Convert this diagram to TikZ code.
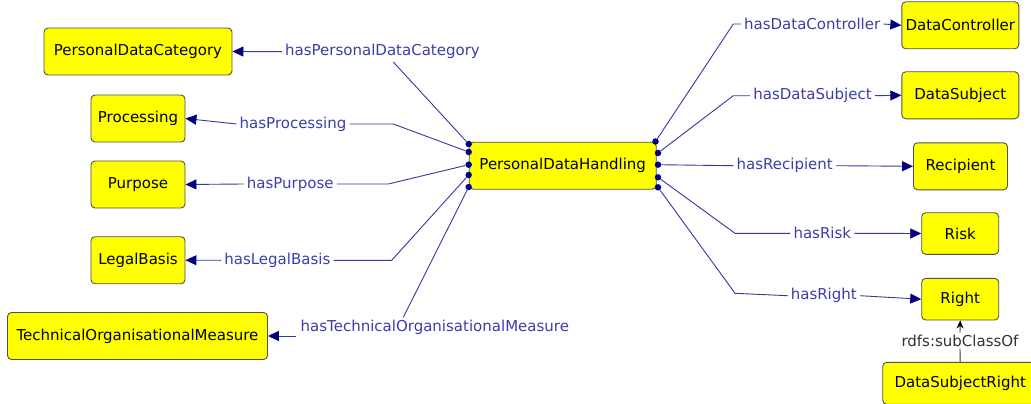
\documentclass[tikz,border=0pt]{standalone}
\usepackage{fontspec}
\setmainfont{DejaVu Sans}
\usetikzlibrary{arrows.meta}
\definecolor{boxfill}{RGB}{255,255,0}
\definecolor{boxline}{RGB}{80,80,80}
\definecolor{edgecol}{RGB}{55,55,160}
\definecolor{navycol}{RGB}{0,0,128}
\definecolor{labcol}{RGB}{60,60,170}
\definecolor{subcol}{RGB}{50,50,50}
\begin{document}
\begin{tikzpicture}[x=1pt,y=-1pt,
  cls/.style={draw=boxline, fill=boxfill, rounded corners=4pt, line width=0.9pt,
    inner sep=0pt, minimum height=47pt, font=\fontsize{15}{18}\selectfont, text=black},
  elab/.style={inner xsep=3pt, inner ysep=2pt, font=\fontsize{15}{18}\selectfont, text=labcol},
  sublab/.style={inner xsep=3pt, inner ysep=2pt, font=\fontsize{15}{18}\selectfont, text=subcol},
  conn/.style={draw=edgecol, line width=0.9pt},
  arr/.style={conn, -{Triangle[length=11pt,width=10pt,color=navycol]}},
  subarr/.style={draw=subcol, line width=0.9pt, -{Stealth[length=8pt,width=7pt,color=black]}},
  pdot/.style={circle, fill=navycol, inner sep=0pt, minimum size=6.5pt}]
\useasboundingbox (0,0) rectangle (1031,404);
\clip (0,0) rectangle (1031,404);

% class boxes
\node[cls, minimum width=188pt] (pdc) at (138,51.5) {PersonalDataCategory};
\node[cls, minimum width=94pt] (proc) at (138,118.5) {Processing};
\node[cls, minimum width=94pt] (purp) at (138,184.5) {Purpose};
\node[cls, minimum width=94pt] (lb) at (138,260.2) {LegalBasis};
\node[cls, minimum width=260pt] (tom) at (137.5,336) {TechnicalOrganisationalMeasure};
\node[cls, minimum width=187pt] (pdh) at (562.7,165.7) {PersonalDataHandling};
\node[cls, minimum width=117pt] (dc) at (960.3,25.3) {DataController};
\node[cls, minimum width=117pt] (ds) at (960.3,95.3) {DataSubject};
\node[cls, minimum width=94pt] (rec) at (960.5,166.3) {Recipient};
\node[cls, minimum width=77pt, minimum height=41.6pt] (risk) at (960.2,233.5) {Risk};
\node[cls, minimum width=77pt, minimum height=41.6pt] (right) at (960.2,299.2) {Right};
\node[cls, minimum width=155pt, minimum height=42pt] (dsr) at (960.2,383.3) {DataSubjectRight};

% attachment dots
\node[pdot] (dl1) at (468.7,144) {};
\node[pdot] (dl2) at (468.7,152) {};
\node[pdot] (dl3) at (468.7,164.7) {};
\node[pdot] (dl4) at (468.7,175) {};
\node[pdot] (dl5) at (468.7,187) {};
\node[pdot] (dr1) at (655.5,141.5) {};
\node[pdot] (dr2) at (658,153) {};
\node[pdot] (dr3) at (658,164.7) {};
\node[pdot] (dr4) at (658,177.3) {};
\node[pdot] (dr5) at (658,187.3) {};

% edge labels
\node[elab] (lpdc) at (382.5,51.7) {hasPersonalDataCategory};
\node[elab] (lproc) at (293,124) {hasProcessing};
\node[elab] (lpurp) at (290.2,184) {hasPurpose};
\node[elab] (llb) at (277.3,260.3) {hasLegalBasis};
\node[elab] (ltom) at (434.8,327.7) {hasTechnicalOrganisationalMeasure};
\node[elab] (ldc) at (812.2,24) {hasDataController};
\node[elab] (lds) at (812.5,95.7) {hasDataSubject};
\node[elab] (lrec) at (784.7,165.7) {hasRecipient};
\node[elab] (lrisk) at (822.3,233.3) {hasRisk};
\node[elab] (lright) at (823.8,295.7) {hasRight};
\node[sublab] (lsub) at (960,340.7) {rdfs:subClassOf};

% bend points
\coordinate (k1) at (393.3,62);
\coordinate (k2) at (393.3,124);
\coordinate (k3) at (388.3,184);
\coordinate (k4) at (391.7,260.3);
\coordinate (k5) at (403.3,317.3);
\coordinate (k5b) at (296,336);
\coordinate (k6) at (733.3,24);
\coordinate (k7) at (733.3,95.7);
\coordinate (k9) at (735,233.3);
\coordinate (k10) at (735,293.3);

% left connectors
\draw[conn] (dl1) -- (k1);
\draw[arr] (lpdc.west) -- (pdc.east);
\draw[conn] (dl2) -- (k2) -- (lproc.east);
\draw[arr] (lproc.west) -- (proc.east);
\draw[conn] (dl3) -- (k3) -- (lpurp.east);
\draw[arr] (lpurp.west) -- (purp.east);
\draw[conn] (dl4) -- (k4) -- (llb.east);
\draw[arr] (llb.west) -- (lb.east);
\draw[conn] (dl5) -- (k5);
\draw[arr] (k5b) -- (tom.east);

% right connectors
\draw[conn] (dr1) -- (k6) -- (ldc.west);
\draw[arr] (ldc.east) -- (dc.west);
\draw[conn] (dr2) -- (k7) -- (lds.west);
\draw[arr] (lds.east) -- (ds.west);
\draw[conn] (dr3) -- (lrec.west);
\draw[arr] (lrec.east) -- (rec.west);
\draw[conn] (dr4) -- (k9) -- (lrisk.west);
\draw[arr] (lrisk.east) -- (risk.west);
\draw[conn] (dr5) -- (k10) -- (lright.west);
\draw[arr] (lright.east) -- (right.west);

% subclass
\draw[draw=subcol, line width=0.9pt] (dsr.north) -- (lsub.south);
\draw[subarr] (lsub.north) -- (right.south);
\end{tikzpicture}
\end{document}
